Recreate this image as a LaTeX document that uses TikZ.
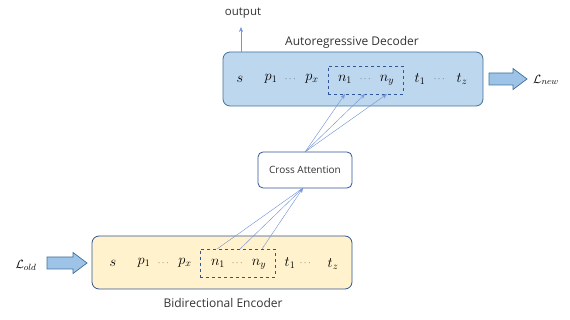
\documentclass[tikz,border=0pt]{standalone}
\usepackage{fontspec}
\setmainfont{Open Sans}
\usepackage{amsmath}
\usetikzlibrary{arrows.meta}
\definecolor{decfill}{RGB}{189,215,238}
\definecolor{decdraw}{RGB}{65,113,156}
\definecolor{encfill}{RGB}{255,242,204}
\definecolor{encdraw}{RGB}{47,85,151}
\definecolor{dashc}{RGB}{47,85,151}
\definecolor{linec}{RGB}{120,150,215}
\definecolor{arrfill}{RGB}{157,195,230}
\tikzset{
  bigbox/.style={draw, rounded corners=7pt, line width=0.8pt},
  dashbox/.style={draw=dashc, dashed, line width=0.8pt},
  tok/.style={inner sep=0pt, font=\fontsize{14}{16}\selectfont},
  dots/.style={inner sep=0pt, font=\fontsize{9}{10}\selectfont, text=black!75},
  lbl/.style={inner sep=0pt, font=\fontsize{12}{14}\selectfont, text=black!80},
  thin/.style={draw=linec, line width=0.45pt},
  fat/.style={draw=decdraw, fill=arrfill, line width=0.7pt, line join=miter},
  tip/.style={-{Stealth[length=5pt,width=4pt]}},
}
\begin{document}
\begin{tikzpicture}[x=1pt,y=-1pt]
\useasboundingbox (0,0) rectangle (570,320);
% decoder
\node[bigbox, fill=decfill, draw=decdraw, minimum width=260pt, minimum height=54pt] (dec) at (353,79) {};
\node[dashbox, minimum width=75pt, minimum height=28pt] (ddash) at (365.5,80) {};
\node[tok] (ds) at (240,79) {$s$};
\node[tok] (dp1) at (271,79) {$p_1$};
\node[dots] (dd1) at (291,79) {$\cdots$};
\node[tok] (dpx) at (312,79) {$p_x$};
\node[tok] (dn1) at (345,79) {$n_1$};
\node[dots] (dd2) at (366,79) {$\cdots$};
\node[tok] (dny) at (387,80) {$n_y$};
\node[tok] (dt1) at (420,79) {$t_1$};
\node[dots] (dd3) at (440,79) {$\cdots$};
\node[tok] (dtz) at (462,79) {$t_z$};
\node[lbl] (dlab) at (352,42) {Autoregressive Decoder};
\node[lbl, font=\fontsize{11.5}{13}\selectfont] (out) at (243,13) {output};
\coordinate (outbase) at (241,52);
\draw[thin, tip] (outbase) -- (241,27);
\draw[fat] (489,73) -- (513,73) -- (513,68.5) -- (527,79) -- (513,89.5) -- (513,85) -- (489,85) -- cycle;
\node[inner sep=0pt, font=\fontsize{13}{15}\selectfont] (lnew) at (546,80) {$\mathcal{L}_{new}$};
% cross attention
\node[draw=encdraw, rounded corners=5pt, line width=0.8pt, minimum width=94pt, minimum height=36pt, fill=white, font=\fontsize{10}{12}\selectfont, text=black!80] (ca) at (305,170) {Cross Attention};
% encoder
\node[bigbox, fill=encfill, draw=encdraw, minimum width=260pt, minimum height=53pt] (enc) at (222,262.5) {};
\node[dashbox, minimum width=75pt, minimum height=28pt] (edash) at (237.5,263) {};
\node[tok] (es) at (113,263) {$s$};
\node[tok] (ep1) at (144,263) {$p_1$};
\node[dots] (ed1) at (164,263) {$\cdots$};
\node[tok] (epx) at (185,263) {$p_x$};
\node[tok] (en1) at (218,263) {$n_1$};
\node[dots] (ed2) at (238,263) {$\cdots$};
\node[tok] (eny) at (259,264) {$n_y$};
\node[tok] (et1) at (290,263) {$t_1$};
\node[dots] (ed3) at (306,263) {$\cdots$};
\node[tok] (etz) at (333,264) {$t_z$};
\node[lbl] (elab) at (223,303) {Bidirectional Encoder};
\draw[fat] (47,257) -- (73,257) -- (73,252.5) -- (87,263) -- (73,273.5) -- (73,269) -- (47,269) -- cycle;
\node[inner sep=0pt, font=\fontsize{13}{15}\selectfont] (lold) at (26,265) {$\mathcal{L}_{old}$};
% connectors
\coordinate (catop) at (305,152);
\coordinate (cabot) at (303,188);
\foreach \x in {345,365,387} {
  \draw[thin, tip] (catop) -- (\x,94);
}
\foreach \x in {217,240} {
  \draw[thin] (\x,249) -- (cabot);
}
\draw[thin, tip] (262,249) -- (cabot);
\end{tikzpicture}
\end{document}
